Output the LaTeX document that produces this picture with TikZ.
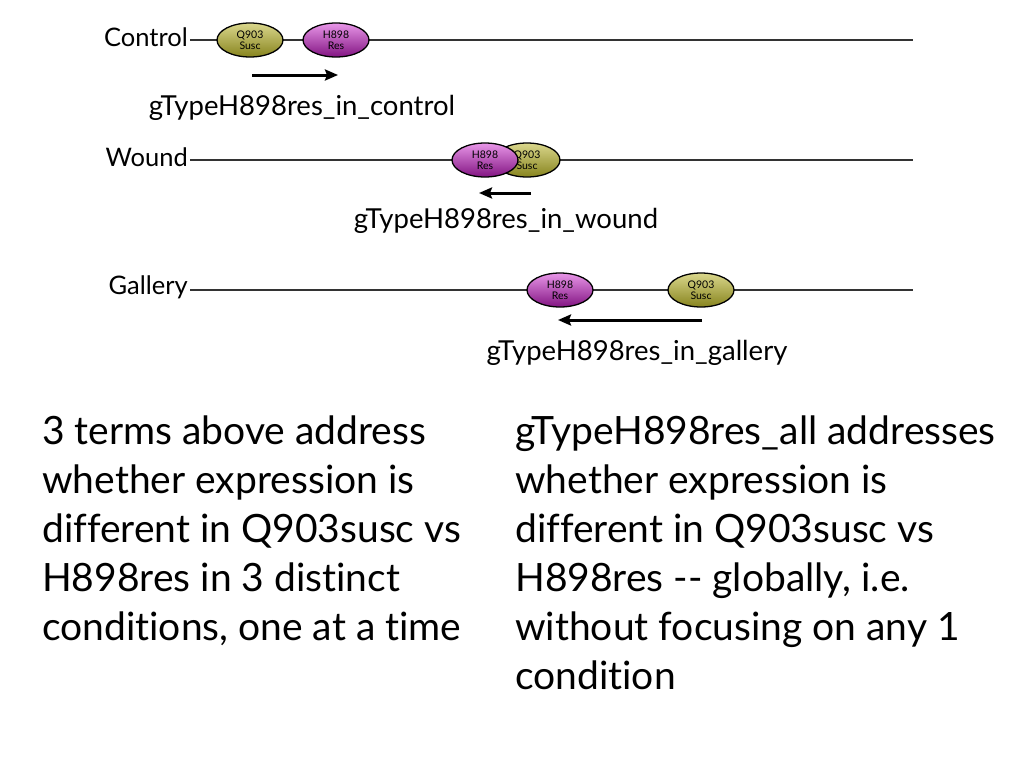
\documentclass[tikz,border=0pt]{standalone}
\usepackage{fontspec}
\setmainfont{Lato}[Ligatures={NoCommon}]
\usetikzlibrary{shapes.geometric, arrows.meta, positioning}

\definecolor{lineGray}{RGB}{51,51,51}
\tikzset{
  cond/.style={anchor=east, inner sep=2pt, font=\fontsize{25.5}{28}\selectfont},
  track/.style={draw=lineGray, line width=2pt},
  allele/.style={ellipse, draw=black, line width=1.3pt, minimum width=66pt,
    minimum height=34pt, inner sep=0pt, align=center,
    font=\fontsize{10.5}{11}\selectfont},
  susc/.style={allele, top color={rgb,255:red,218;green,215;blue,140},
    bottom color={rgb,255:red,135;green,132;blue,30}},
  res/.style={allele, top color={rgb,255:red,232;green,150;blue,232},
    bottom color={rgb,255:red,130;green,20;blue,130}},
  moveArrow/.style={line width=3pt, -{Stealth[length=13pt,width=11pt,inset=2pt]}},
  term/.style={font=\fontsize{27.5}{30}\selectfont},
  blurb/.style={anchor=north west, align=left, inner sep=0pt,
    font=\fontsize{39}{49}\selectfont}
}

\begin{document}
\begin{tikzpicture}[x=1pt, y=-1pt]
\useasboundingbox (0,0) rectangle (1024,768);
% Control
\node[cond] (ctrl) at (190,37) {Control};
\coordinate (ctrlEnd) at (913,40);
\draw[track] (ctrl.east |- ctrlEnd) -- (ctrlEnd);
\node[susc] (ctrlQ) at (250,40) {Q903\\Susc};
\node[res] (ctrlH) at (336,40) {H898\\Res};
\coordinate (ctrlA) at (252,75);
\coordinate (ctrlB) at (338,75);
\draw[moveArrow] (ctrlA) -- (ctrlB);
\node[term] (ctrlT) at (302,108) {gTypeH898res\_in\_control};
% Wound
\node[cond] (wnd) at (190,157) {Wound};
\coordinate (wndEnd) at (913,160);
\draw[track] (wnd.east |- wndEnd) -- (wndEnd);
\node[susc] (wndQ) at (527,160) {Q903\\Susc};
\node[res] (wndH) at (485,160) {H898\\Res};
\coordinate (wndA) at (531,193);
\coordinate (wndB) at (479,193);
\draw[moveArrow] (wndA) -- (wndB);
\node[term] (wndT) at (506,221) {gTypeH898res\_in\_wound};
% Gallery
\node[cond] (gal) at (190,287) {Gallery};
\coordinate (galEnd) at (913,290);
\draw[track] (gal.east |- galEnd) -- (galEnd);
\node[res] (galH) at (560,290) {H898\\Res};
\node[susc] (galQ) at (701,290) {Q903\\Susc};
\coordinate (galA) at (702,320);
\coordinate (galB) at (558,320);
\draw[moveArrow] (galA) -- (galB);
\node[term] (galT) at (637,353) {gTypeH898res\_in\_gallery};
% explanations
\node[blurb] (left) at (42,416) {3 terms above address\\whether expression is\\different in Q903susc vs\\H898res in 3 distinct\\conditions, one at a time};
\node[blurb] (right) at (515,416) {gTypeH898res\_all addresses\\whether expression is\\different in Q903susc vs\\H898res -{}- globally, i.e.\\without focusing on any 1\\condition};
\end{tikzpicture}
\end{document}
